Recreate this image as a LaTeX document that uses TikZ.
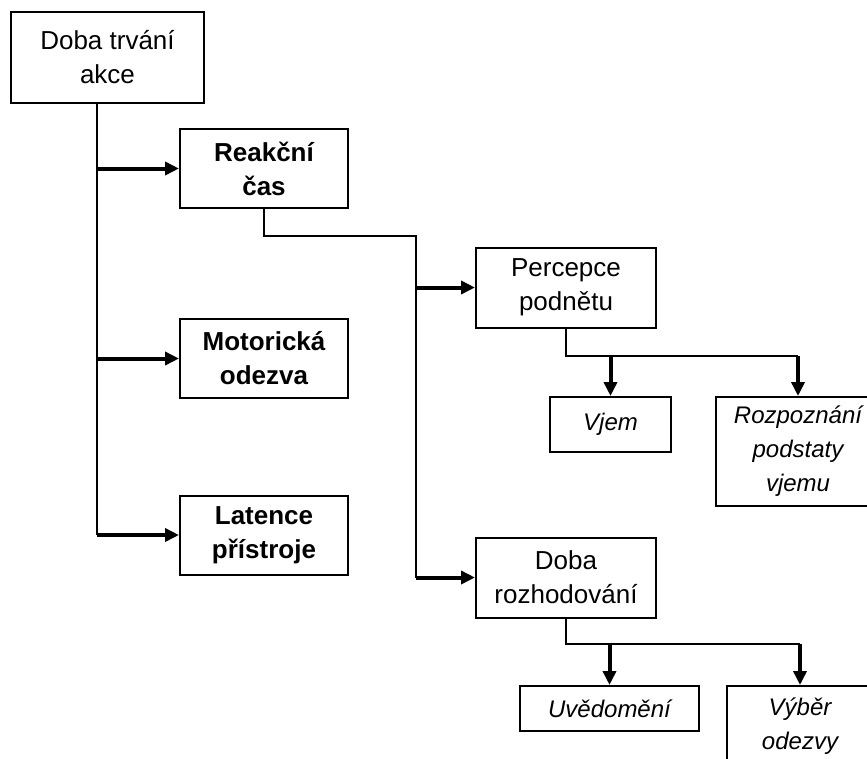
\documentclass[tikz,border=0pt]{standalone}
\usepackage{fontspec}
\setmainfont{Liberation Sans}
\usetikzlibrary{positioning,calc,arrows.meta}

\def\boxfont{\fontsize{26}{34}\selectfont}
\def\leaffont{\fontsize{24}{34}\selectfont}

\tikzset{
  box/.style={draw, rectangle, line width=2pt, align=center, inner sep=0pt, font=\boxfont},
  boldbox/.style={box, font=\boxfont\bfseries},
  itbox/.style={box, font=\leaffont\itshape},
  conn/.style={line width=2pt},
  arr/.style={line width=4pt, -{Triangle[length=14pt,width=13pt]}},
}

\begin{document}
\begin{tikzpicture}[x=1pt,y=-1pt]
  \useasboundingbox (0,0) rectangle (867,758);
  \clip (0,0) rectangle (867,758);

  % root
  \node[box, minimum width=193pt, minimum height=91pt] (akce) at (107.5,57.5) {Doba trvání\\akce};

  % first level
  \foreach \name/\y/\txt in {reakce/168.5/{Reakční\\čas},
                             motor/358.5/{Motorická\\odezva},
                             latence/535/{Latence\\přístroje}}
    \node[boldbox, minimum width=168pt, minimum height=79pt] (\name) at (264,\y) {\txt};

  % second level
  \foreach \name/\y/\txt in {percepce/287.5/{Percepce\\podnětu},
                             rozhod/577.5/{Doba\\rozhodování}}
    \node[box, minimum width=180pt, minimum height=80pt] (\name) at (566,\y) {\txt};

  % leaves
  \node[itbox, minimum width=121pt, minimum height=55pt] (vjem) at (610.5,424.5) {Vjem};
  \node[itbox, minimum width=164pt, minimum height=109pt] (rozpozn) at (798,451.5) {Rozpoznání\\podstaty\\vjemu};
  \node[itbox, minimum width=179pt, minimum height=45pt] (uved) at (609.5,708.5) {Uvědomění};
  \node[itbox, minimum width=146pt, minimum height=80pt] (vyber) at (800,726) {Výběr\\odezvy};

  % connectors
  \coordinate (trunk) at (97,103);
  \draw[conn] (trunk) -- (trunk |- latence.west);
  \foreach \n in {reakce,motor,latence}
    \draw[arr] (trunk |- \n.west) -- (\n.west);

  \coordinate (branch) at (416,236);
  \draw[conn] (reakce.south) |- (branch) -- (branch |- rozhod.west);
  \foreach \n in {percepce,rozhod}
    \draw[arr] (branch |- \n.west) -- (\n.west);

  \coordinate (psplit) at (566,356);
  \draw[conn] (percepce.south) -- (psplit) -- (psplit -| rozpozn.north);
  \foreach \n in {vjem,rozpozn}
    \draw[arr] (psplit -| \n.north) -- (\n.north);

  \coordinate (rsplit) at (566,644);
  \draw[conn] (rozhod.south) -- (rsplit) -- (rsplit -| vyber.north);
  \foreach \n in {uved,vyber}
    \draw[arr] (rsplit -| \n.north) -- (\n.north);
\end{tikzpicture}
\end{document}
